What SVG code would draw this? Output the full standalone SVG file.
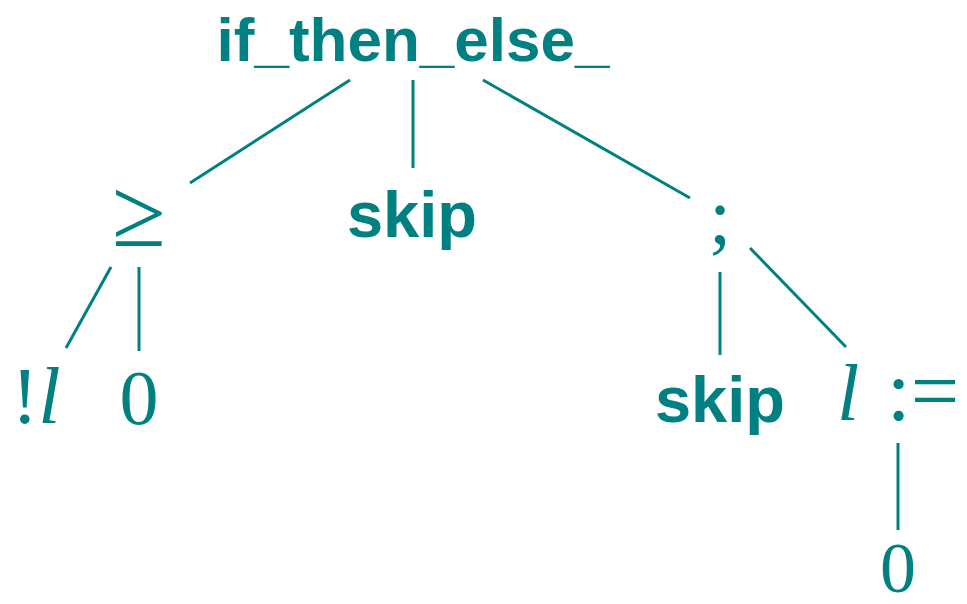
<svg xmlns="http://www.w3.org/2000/svg" width="967" height="604" viewBox="0 0 967 604">
<style>
.b{font-family:"Liberation Sans",Arial,sans-serif;font-weight:bold;fill:#008080;text-anchor:middle}
.m{font-family:"Liberation Serif","DejaVu Serif",serif;fill:#008080;text-anchor:middle}
.i{font-style:italic}
.e line{stroke:#008080;stroke-width:3}
</style>
<rect width="967" height="604" fill="#fff"/>
<g class="e" id="edges">
<line x1="350" y1="80" x2="190" y2="183"/>
<line x1="413" y1="80" x2="413" y2="168"/>
<line x1="483" y1="80" x2="690" y2="198"/>
<line x1="111" y1="267" x2="66" y2="348"/>
<line x1="139" y1="267" x2="139" y2="351"/>
<line x1="720" y1="272" x2="720" y2="355"/>
<line x1="750" y1="248" x2="846" y2="347"/>
<line x1="898" y1="443" x2="898" y2="530"/>
</g>
<g id="n-ite"><text class="b" x="413" y="61" font-size="62">if_then_else_</text></g>
<g id="n-geq"><text class="m" x="139" y="246" font-size="98">≥</text></g>
<g id="n-skip1"><text class="b" x="412" y="237" font-size="65">skip</text></g>
<g id="n-seq"><text class="m" x="720" y="243" font-size="80">;</text></g>
<g id="n-deref"><text class="m" x="36" y="423" font-size="80">!<tspan class="i">l</tspan></text></g>
<g id="n-zero1"><text class="m" x="139" y="424" font-size="78">0</text></g>
<g id="n-skip2"><text class="b" x="720" y="422" font-size="65">skip</text></g>
<g id="n-assign"><text class="m" x="848" y="420" font-size="80"><tspan class="i">l</tspan></text><text class="m" x="923" y="420" font-size="86">:=</text></g>
<g id="n-zero2"><text class="m" x="898" y="592" font-size="72">0</text></g>
</svg>
